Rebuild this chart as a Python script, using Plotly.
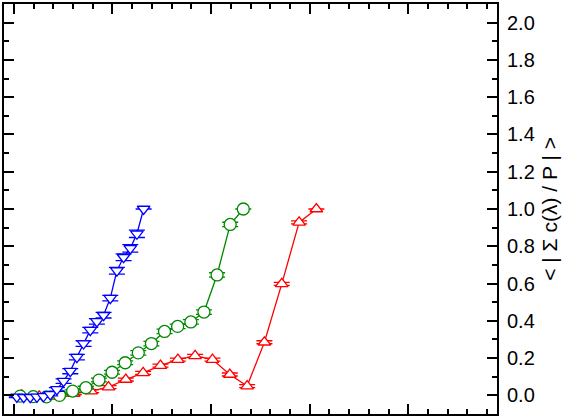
import plotly.graph_objects as go

# down triangles (blue)
blue_x = [0.030, 0.100, 0.166, 0.234, 0.301, 0.369, 0.436, 0.504, 0.572, 0.639,
          0.707, 0.775, 0.842, 0.910, 0.978, 1.045, 1.113, 1.181, 1.248, 1.316]
blue_y = [-0.008, -0.010, -0.010, -0.008, -0.005, 0.005, 0.032, 0.076, 0.130, 0.205,
          0.278, 0.350, 0.397, 0.430, 0.522, 0.669, 0.741, 0.789, 0.867, 1.000]
blue_err = [0.004, 0.004, 0.004, 0.004, 0.005, 0.008, 0.010, 0.012, 0.014, 0.015,
            0.015, 0.015, 0.015, 0.015, 0.015, 0.018, 0.018, 0.020, 0.020, 0.0]

# circles (green)
green_x = [0.064, 0.197, 0.330, 0.463, 0.596, 0.730, 0.863, 0.996, 1.129, 1.262,
           1.395, 1.528, 1.661, 1.795, 1.928, 2.061, 2.194, 2.327]
green_y = [-0.004, -0.007, -0.008, 0.000, 0.023, 0.041, 0.082, 0.124, 0.175, 0.228,
           0.278, 0.343, 0.370, 0.394, 0.447, 0.646, 0.917, 1.000]
green_err = [0.004, 0.004, 0.004, 0.005, 0.006, 0.008, 0.010, 0.010, 0.010, 0.012,
             0.012, 0.012, 0.012, 0.012, 0.012, 0.012, 0.012, 0.0]

# up triangles (red)
red_x = [0.081, 0.257, 0.432, 0.608, 0.784, 0.960, 1.135, 1.311, 1.487, 1.663,
         1.838, 2.014, 2.190, 2.366, 2.541, 2.717, 2.893, 3.068]
red_y = [0.000, -0.005, -0.005, 0.010, 0.023, 0.044, 0.085, 0.121, 0.160, 0.192,
         0.212, 0.192, 0.112, 0.050, 0.285, 0.598, 0.928, 1.000]
red_err = [0.004, 0.004, 0.004, 0.006, 0.008, 0.008, 0.008, 0.008, 0.008, 0.008,
           0.008, 0.008, 0.008, 0.008, 0.008, 0.008, 0.008, 0.0]

y_ticks = [0.0, 0.2, 0.4, 0.6, 0.8, 1.0, 1.2, 1.4, 1.6, 1.8, 2.0]

FONT = "Liberation Sans, Arial, Helvetica, sans-serif"


def series(x, y, err, color, symbol, size):
    return go.Scatter(
        x=x, y=y, mode="lines+markers",
        line=dict(color=color, width=1.3),
        marker=dict(symbol=symbol, size=size, color="white",
                    line=dict(color=color, width=1.3)),
        error_y=dict(type="data", array=err, color=color, thickness=1.3, width=8),
        showlegend=False, hoverinfo="skip",
    )


fig = go.Figure()
fig.add_trace(series(red_x, red_y, red_err, "#ff0000", "triangle-up", 11))
fig.add_trace(series(green_x, green_y, green_err, "#008800", "circle", 12))
fig.add_trace(series(blue_x, blue_y, blue_err, "#0000ff", "triangle-down", 11))

_AX = dict(showline=True, linecolor="black", linewidth=2, mirror="allticks",
           ticks="inside", tickcolor="black", tickwidth=1.5, ticklen=10,
           showgrid=False, zeroline=False)

fig.update_xaxes(range=[-0.1, 4.9], dtick=1, tick0=0, showticklabels=False,
                 minor=dict(ticks="inside", ticklen=5, dtick=0.2, tickcolor="black",
                            tickwidth=1.5, showgrid=False),
                 **_AX)
fig.update_yaxes(range=[-0.1, 2.1], side="right", tickvals=y_ticks,
                 ticktext=[f"{v:.1f}" for v in y_ticks],
                 tickfont=dict(family=FONT, size=20, color="black"),
                 ticklabelstandoff=4,
                 minor=dict(ticks="inside", ticklen=5, dtick=0.1, tickcolor="black",
                            tickwidth=1.5, showgrid=False),
                 **_AX)

fig.add_annotation(
    x=1.105, y=0.5, xref="paper", yref="paper",
    text="< | \u03a3 c(\u03bb) / P | >", textangle=-90, showarrow=False,
    xanchor="center", yanchor="middle",
    font=dict(family=FONT, size=21, color="black"),
)

fig.update_layout(
    width=571, height=418,
    paper_bgcolor="white", plot_bgcolor="white",
    margin=dict(l=2, r=74, t=3, b=4),
)

# drop the default 8px body margin so the figure sits at the page origin
fig.write_html("out.html", config={"displayModeBar": False},
               post_script="document.body.style.margin='0';")
